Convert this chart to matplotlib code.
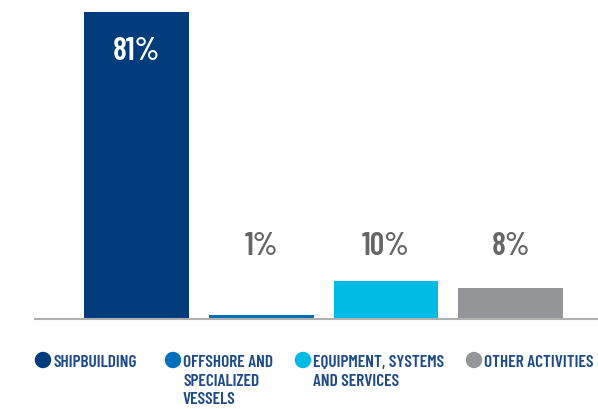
import matplotlib
matplotlib.use("Agg")
import matplotlib.pyplot as plt
from matplotlib.patches import Ellipse

# данные
categories = ["SHIPBUILDING", "OFFSHORE AND\nSPECIALIZED\nVESSELS",
              "EQUIPMENT, SYSTEMS\nAND SERVICES", "OTHER ACTIVITIES"]
values = [81, 1, 10, 8]
labels = ["81%", "1%", "10%", "8%"]
colors = ["#003b7b", "#0070bb", "#00bce4", "#939598"]

plt.rcParams['font.family'] = ['Barlow Condensed', 'DejaVu Sans']

W, H = 598, 409
fig = plt.figure(figsize=(W / 100, H / 100), dpi=100)
ax = fig.add_axes([35 / W, 0.221, 1 - 35 / W, 0.9707 - 0.221])

x = range(len(values))
ax.bar(x, values, width=0.84, color=colors, zorder=2)
ax.set_xlim(-0.814, 3.70)
ax.set_ylim(0, 81)

# подписи над столбцами
for i, (v, lab) in enumerate(zip(values, labels)):
    if v > 50:
        ax.text(i, v - 12.6, lab, ha='center', va='baseline', color='white',
                fontsize=23, fontweight=600)
    else:
        ax.text(i, 16.8, lab, ha='center', va='baseline', color='#666666',
                fontsize=23, fontweight=600)

for s in ['top', 'right', 'left']:
    ax.spines[s].set_visible(False)
ax.spines['bottom'].set_color('#b0b0b0')
ax.spines['bottom'].set_linewidth(1.5)
ax.set_xticks([])
ax.set_yticks([])

# легенда вручную
dot_x = [43, 173, 303, 474]
for dx, cat, c in zip(dot_x, categories, colors):
    fig.add_artist(Ellipse((dx / W, 1 - 360 / H), 15 / W, 15 / H,
                           transform=fig.transFigure, color=c))
    for k, line in enumerate(cat.split("\n")):
        fig.text((dx + 10) / W, 1 - (367 + 18.5 * k) / H, line,
                 ha='left', va='baseline', color='#1f4b8a',
                 fontsize=12.5, fontweight=600)

fig.savefig("out.png", dpi=100)
